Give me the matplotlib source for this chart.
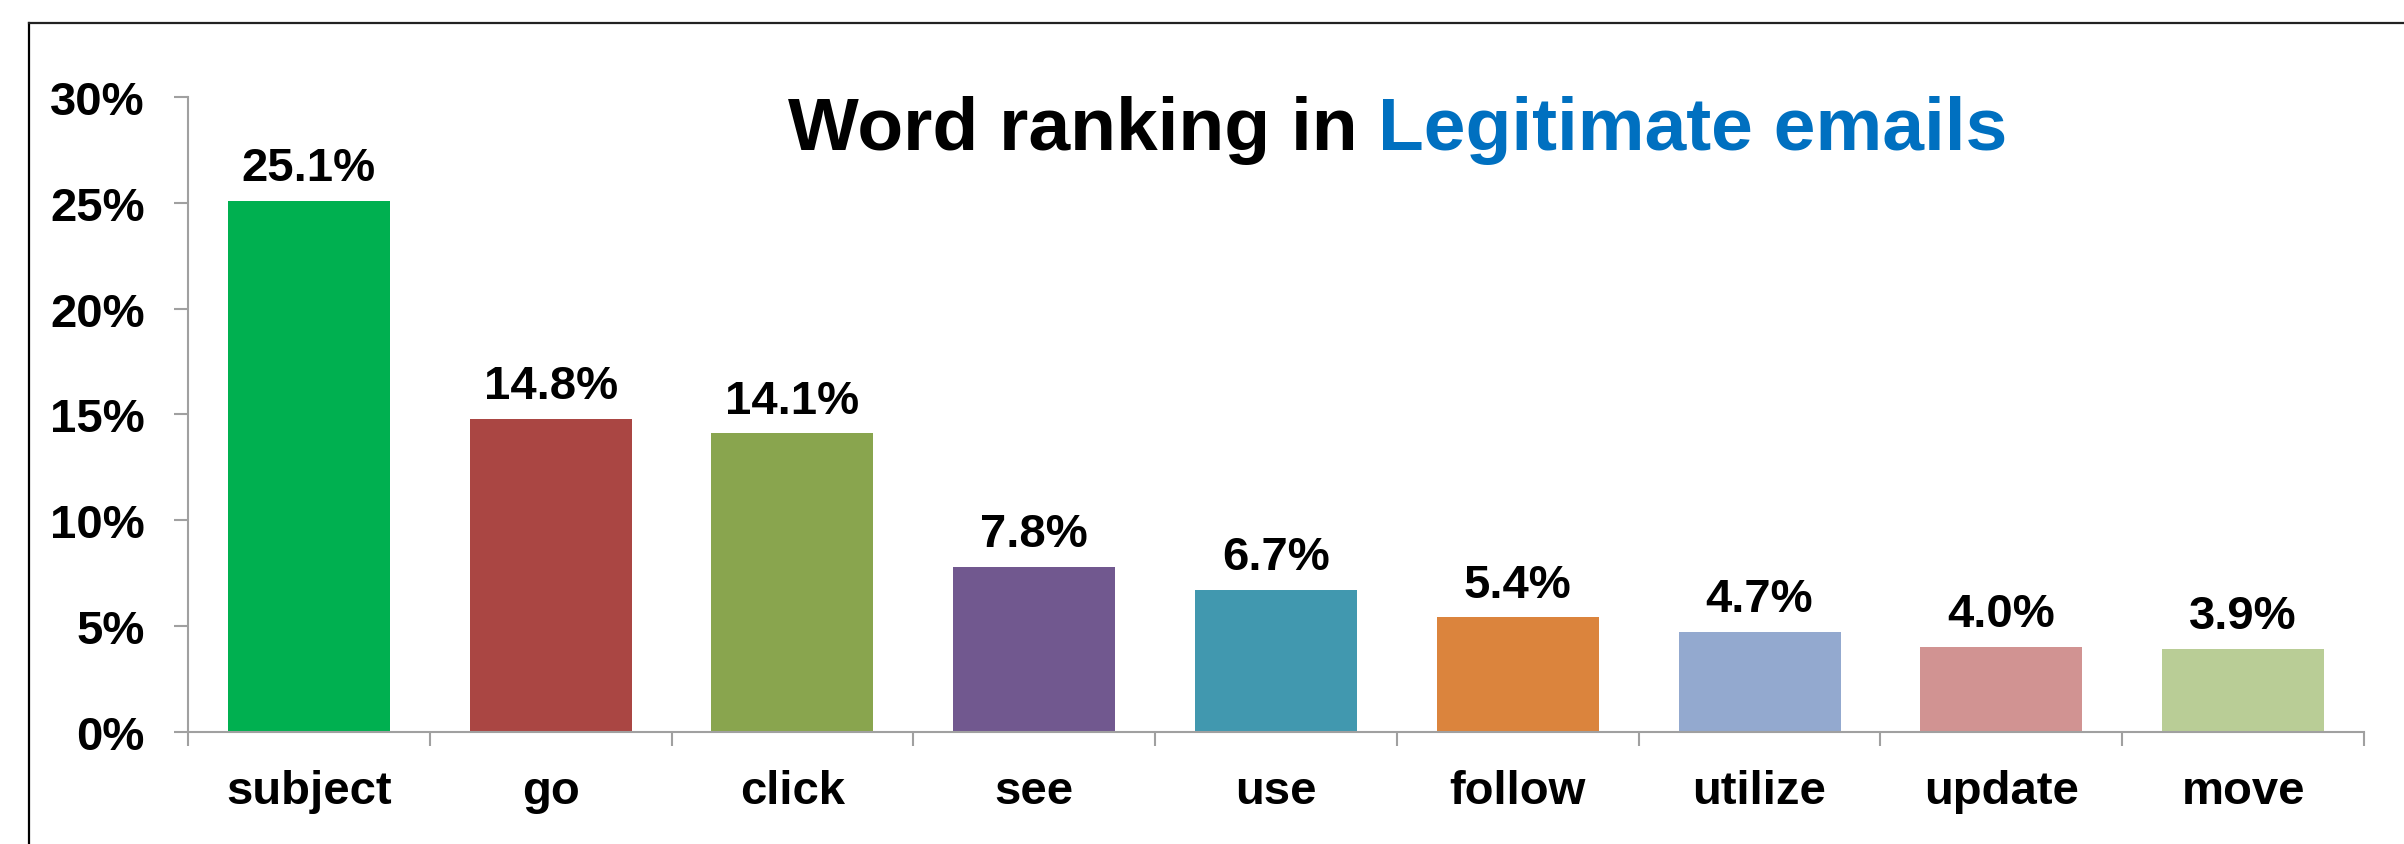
import matplotlib
matplotlib.use("Agg")
import matplotlib.pyplot as plt
from matplotlib.lines import Line2D
from matplotlib.ticker import FuncFormatter, FixedLocator

plt.rcParams['font.family'] = ['Liberation Sans', 'DejaVu Sans']
plt.rcParams['font.weight'] = 'bold'

categories = ["subject", "go", "click", "see", "use", "follow", "utilize", "update", "move"]
values = [25.1, 14.8, 14.1, 7.8, 6.7, 5.4, 4.7, 4.0, 3.9]
colors = ["#00B050", "#AA4643", "#89A54E", "#71588F", "#4198AF",
          "#DB843D", "#93A9CF", "#D19392", "#B9CD96"]
yticks = [0, 5, 10, 15, 20, 25, 30]

W, H, DPI = 2404, 845, 100
fig = plt.figure(figsize=(W / DPI, H / DPI), dpi=DPI)
fig.patch.set_facecolor("white")

left, right = 188 / W, 2364 / W
bottom, top = 1 - 732.7 / H, 1 - 98 / H
ax = fig.add_axes([left, bottom, right - left, top - bottom])

x = list(range(len(categories)))
bars = ax.bar(x, values, width=0.67, color=colors, zorder=2)

for xi, v in zip(x, values):
    ax.annotate(f"{v:.1f}%", xy=(xi, v), xytext=(0, 15), textcoords="offset points",
                ha="center", va="baseline", fontsize=34, fontweight="bold", color="black")

ax.set_xlim(-0.5, len(categories) - 0.5)
ax.set_ylim(0, 30)

axis_gray = "#A0A0A0"
for s in ["top", "right"]:
    ax.spines[s].set_visible(False)
for s in ["left", "bottom"]:
    ax.spines[s].set_color(axis_gray)
    ax.spines[s].set_linewidth(1.5)

ax.set_yticks(yticks)
ax.yaxis.set_major_formatter(FuncFormatter(lambda v, p: f"{int(v)}%"))
ax.tick_params(axis="y", which="major", length=10, width=1.5, color=axis_gray,
               pad=21, labelsize=34, labelcolor="black")

ax.set_xticks(x)
ax.set_xticklabels(categories)
ax.xaxis.set_minor_locator(FixedLocator([i - 0.5 for i in range(len(categories) + 1)]))
ax.tick_params(axis="x", which="major", length=0, pad=27, labelsize=34, labelcolor="black")
ax.tick_params(axis="x", which="minor", length=10, width=1.5, color=axis_gray)
for lbl in ax.get_xticklabels() + ax.get_yticklabels():
    lbl.set_fontweight("bold")

# Title in two colours
t1 = fig.text(788 / W, 1 - 150 / H, "Word ranking in ", fontsize=54, fontweight="bold",
              color="black", ha="left", va="baseline")
fig.canvas.draw()
ax.annotate("Legitimate emails", xy=(1, 0), xycoords=t1, xytext=(0, 0),
            textcoords="offset points", ha="left", va="bottom", fontsize=54,
            fontweight="bold", color="#0070C0", annotation_clip=False)

# Outer frame (top and left visible)
fig.add_artist(Line2D([29 / W, 29 / W], [0, 1 - 24 / H], transform=fig.transFigure,
                      color="black", lw=1.6))
fig.add_artist(Line2D([29 / W, 1], [1 - 24 / H, 1 - 24 / H], transform=fig.transFigure,
                      color="#222222", lw=1.6))

fig.savefig("out.png", dpi=DPI, facecolor="white")
